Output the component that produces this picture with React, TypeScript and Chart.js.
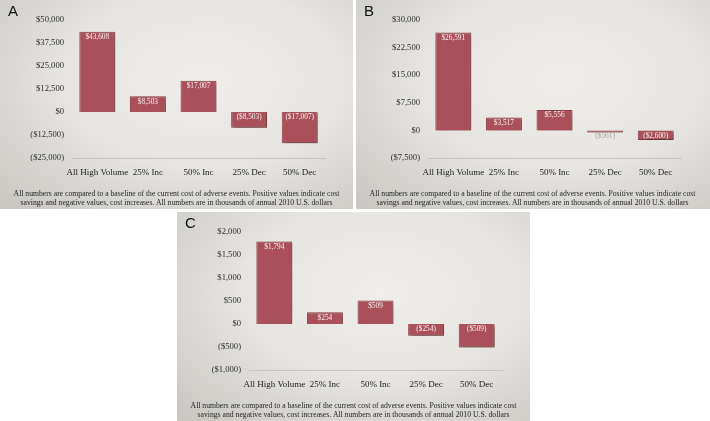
import React, { useEffect, useRef } from "react";
import { Chart, registerables } from "chart.js";

Chart.register(...registerables);

const categories = ["All High Volume", "25% Inc", "50% Inc", "25% Dec", "50% Dec"];

const valuesA = [43608, 8503, 17007, -8503, -17007];
const valuesB = [26591, 3517, 5556, -561, -2600];
const valuesC = [1794, 254, 509, -254, -509];

const ticksA = { min: -25000, max: 50000, step: 12500 };
const ticksB = { min: -7500, max: 30000, step: 7500 };
const ticksC = { min: -1000, max: 2000, step: 500 };

const captionLine1 =
  "All numbers are compared to a baseline of the current cost of adverse events.  Positive values indicate cost";
const captionLine2 =
  "savings and negative values, cost increases.  All numbers are in thousands of annual 2010 U.S. dollars";

const PANEL_W = 353;
const PANEL_H = 209;

function fmt(v: number): string {
  const s = Math.abs(v).toLocaleString("en-US");
  return v < 0 ? `($${s})` : `$${s}`;
}

const barEffects = {
  id: "barEffects",
  beforeDatasetsDraw(chart: any) {
    const ctx = chart.ctx;
    ctx.save();
    ctx.shadowColor = "rgba(50,35,35,0.5)";
    ctx.shadowBlur = 3;
    ctx.shadowOffsetX = 2;
    ctx.shadowOffsetY = 2;
  },
  afterDatasetsDraw(chart: any) {
    const ctx = chart.ctx;
    ctx.restore();
    const meta = chart.getDatasetMeta(0);
    const data = chart.data.datasets[0].data as number[];
    ctx.save();
    ctx.font = '7.3px "Liberation Serif"';
    ctx.textAlign = "center";
    ctx.textBaseline = "middle";
    meta.data.forEach((bar: any, i: number) => {
      const { x, y, base } = bar.getProps(["x", "y", "base"], true);
      const top = Math.min(y, base);
      const h = Math.abs(base - y);
      ctx.fillStyle = h < 8 ? "#a8a2a2" : "#fbf1f1";
      ctx.fillText(fmt(data[i]), x, top + 5.5);
    });
    ctx.restore();
  },
};

type PanelProps = {
  letter: string;
  values: number[];
  range: { min: number; max: number; step: number };
  left: number;
  top: number;
  width: number;
};

function Panel({ letter, values, range, left, top, width }: PanelProps) {
  const ref = useRef<HTMLCanvasElement | null>(null);

  useEffect(() => {
    if (!ref.current) return;
    const chart = new Chart(ref.current, {
      type: "bar",
      data: {
        labels: categories,
        datasets: [
          {
            data: values,
            backgroundColor: "#A9505B",
            borderColor: "#8f414b",
            borderWidth: 1,
            barPercentage: 0.71,
            categoryPercentage: 1,
          },
        ],
      },
      options: {
        responsive: false,
        animation: false,
        layout: { padding: { left: 12, right: 28, top: 20, bottom: 0 } },
        plugins: {
          legend: { display: false },
          tooltip: { enabled: false },
        },
        scales: {
          x: {
            grid: { display: false, drawTicks: false },
            border: { display: true, color: "#c6c5c0", width: 1 },
            ticks: {
              color: "#222222",
              font: { family: "Liberation Serif", size: 9 },
              padding: 9,
              maxRotation: 0,
              minRotation: 0,
              autoSkip: false,
            },
            afterFit: (s: any) => {
              s.height = 51;
            },
          },
          y: {
            min: range.min,
            max: range.max,
            grid: { display: false, drawTicks: false },
            border: { display: false },
            ticks: {
              stepSize: range.step,
              color: "#2e2e2e",
              font: { family: "Liberation Serif", size: 8.6 },
              padding: 8,
              callback: (v: any) => fmt(Number(v)),
            },
            afterFit: (s: any) => {
              s.width = 60;
            },
          },
        },
      },
      plugins: [barEffects],
    } as any);
    return () => chart.destroy();
  }, [values, range]);

  return (
    <div
      style={{
        position: "absolute",
        left,
        top,
        width,
        height: PANEL_H,
        overflow: "hidden",
        background:
          "radial-gradient(ellipse 80% 85% at 58% 38%, #efeeeb 0%, #e5e4e0 50%, #c8c7c2 100%)",
      }}
    >
      <canvas
        ref={ref}
        width={PANEL_W}
        height={PANEL_H}
        style={{ position: "absolute", left: 0, top: 0, display: "block" }}
      />
      <div
        style={{
          position: "absolute",
          left: 8,
          top: 3,
          fontFamily: '"Liberation Sans", Arial, sans-serif',
          fontSize: 15,
          lineHeight: "15px",
          color: "#111",
        }}
      >
        {letter}
      </div>
      <div
        style={{
          position: "absolute",
          left: 0,
          top: 188.5,
          width: PANEL_W,
          textAlign: "center",
          fontFamily: '"Liberation Serif", serif',
          fontSize: 7.7,
          lineHeight: "9px",
          color: "#262626",
          whiteSpace: "nowrap",
        }}
      >
        {captionLine1}
        <br />
        {captionLine2}
      </div>
    </div>
  );
}

export default function App() {
  return (
    <div
      style={{
        position: "absolute",
        left: 0,
        top: 0,
        width: 710,
        height: 421,
        background: "#ffffff",
        overflow: "hidden",
      }}
    >
      <Panel letter="A" values={valuesA} range={ticksA} left={0} top={0} width={353} />
      <Panel letter="B" values={valuesB} range={ticksB} left={356} top={0} width={354} />
      <Panel letter="C" values={valuesC} range={ticksC} left={177} top={212} width={353} />
    </div>
  );
}
